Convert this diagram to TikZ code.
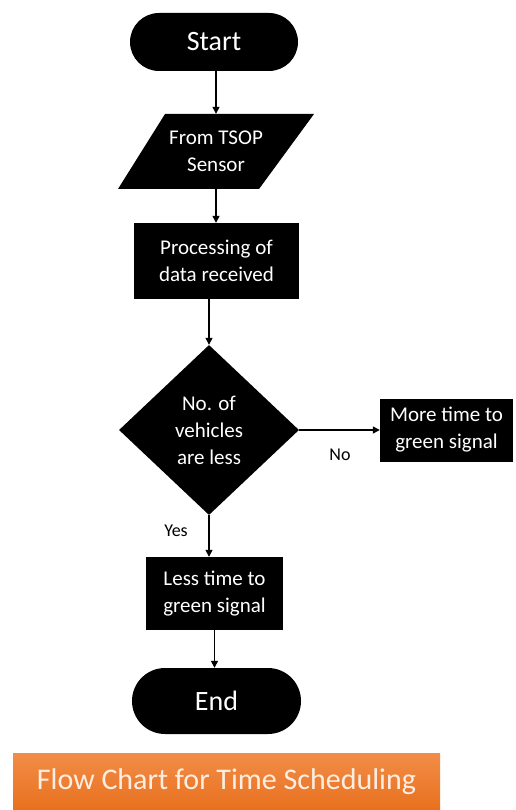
\documentclass[tikz,border=0pt]{standalone}
\usepackage{fontspec}
\setmainfont{Carlito}
\usetikzlibrary{shapes.geometric,arrows.meta,calc}
\definecolor{bantop}{HTML}{F28D48}
\definecolor{banbot}{HTML}{E8701E}
\definecolor{bantext}{HTML}{FDEEE2}
\begin{document}
\begin{tikzpicture}[x=1pt,y=-1pt,
  box/.style={fill=black,text=white,inner sep=0pt,align=center,font=\fontsize{21}{27}\selectfont},
  term/.style={box,font=\fontsize{28}{30}\selectfont},
  arr/.style={-{Triangle[length=7pt,width=7pt]},line width=1.3pt},
  lbl/.style={font=\fontsize{18}{20}\selectfont,text=black,inner sep=0pt}]
\useasboundingbox (0,0) rectangle (515,810);
\fill[white] (0,0) rectangle (515,810);

% start terminal
\node[term,minimum width=168pt,minimum height=58pt,rounded corners=29pt] (start) at (214,42) {Start};

% input parallelogram
\fill[black] (165,114) -- (314,114) -- (259,189) -- (118,189) -- cycle;
\node[box,fill=none,minimum width=140pt,minimum height=75pt] (io) at (216,151.5) {From TSOP\\Sensor};

% process
\node[box,minimum width=165pt,minimum height=76pt] (proc) at (216.5,261) {Processing of\\data received};

% decision
\node[box,diamond,minimum width=180pt,minimum height=170pt] (dec) at (209,430) {No. of\\vehicles\\are less};

% more time
\node[box,minimum width=133pt,minimum height=63pt] (more) at (446.5,430) {More time to\\green signal};

% less time
\node[box,minimum width=137pt,minimum height=73pt] (less) at (214.5,593.5) {Less time to\\green signal};

% end terminal
\node[term,minimum width=169pt,minimum height=66pt,rounded corners=33pt] (end) at (216.5,701) {End};

% banner
\node[top color=bantop,bottom color=banbot,text=bantext,inner sep=0pt,
      minimum width=427pt,minimum height=57pt,font=\fontsize{30}{32}\selectfont] (banner) at (226.5,781.5) {Flow Chart for Time Scheduling};

% connectors
\draw[arr] (start.south -| io.north) -- (io.north);
\draw[arr] (io.south) -- (proc.north -| io.south);
\draw[arr] (proc.south -| dec.north) -- (dec.north);
\draw[arr] (dec.east) -- (more.west);
\draw[arr] (dec.south) -- (less.north -| dec.south);
\draw[arr] (less.south) -- (end.north -| less.south);

% labels
\node[lbl] (no) at (340,455) {No};
\node[lbl] (yes) at (176,531) {Yes};
\end{tikzpicture}
\end{document}
